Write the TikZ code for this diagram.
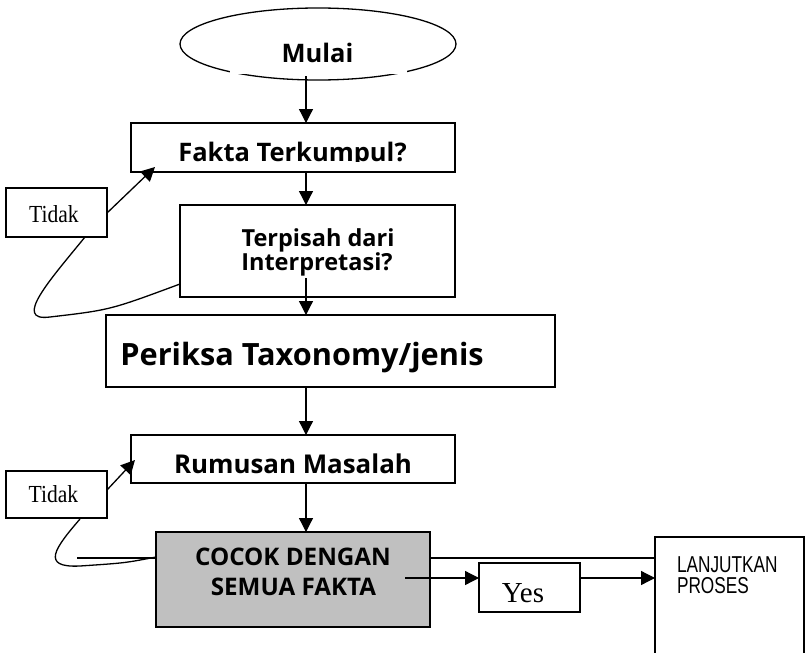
\documentclass[tikz,border=0pt]{standalone}
\usepackage{fontspec}
\newfontfamily\bxf{Open Sans}
\newfontfamily\serf{Liberation Serif}
\newfontfamily\sernf{Liberation Serif}[FakeStretch=0.88]
\newfontfamily\narf{Liberation Sans}[FakeStretch=0.75]
\usetikzlibrary{arrows.meta}
\newcommand{\myB}[1]{\bxf\bfseries\fontsize{#1}{#1}\selectfont}
\begin{document}
\begin{tikzpicture}[x=1pt,y=-1pt,
  box/.style={draw,line width=1.3pt,inner sep=0pt,outer sep=0pt,rectangle},
  txt/.style={inner sep=0pt,outer sep=0pt},
  tight/.style={inner sep=0pt,outer sep=0pt,text height=16pt,text depth=1pt},
  arr/.style={-{Triangle[length=14pt,width=14pt]},line width=1.3pt},
  ln/.style={line width=1.3pt}]
\clip (0,0) rectangle (807,653);
\fill[white] (0,0) rectangle (807,653);
% start ellipse
\draw[ln] (318,44) ellipse [x radius=138, y radius=36];
\fill[white] (230,40) rectangle (407,74);
\node[txt,anchor=base] (mulai) at (317.5,63) {\myB{25.5}Mulai};
% boxes
\node[box,minimum width=324pt,minimum height=49pt] (fakta) at (293,147.5) {};
\node[box,minimum width=275pt,minimum height=92pt] (terp) at (317.5,251) {};
\node[box,minimum width=449pt,minimum height=72pt] (periksa) at (330.5,351) {};
\node[box,minimum width=324pt,minimum height=48pt] (rumus) at (293,459) {};
\node[box,fill={rgb,255:red,192;green,192;blue,192},minimum width=274pt,minimum height=95pt] (cocok) at (293,579.5) {};
\node[box,minimum width=101pt,minimum height=49pt] (tidak1) at (56.5,212.5) {};
\node[box,minimum width=101pt,minimum height=47pt] (tidak2) at (56.5,494.5) {};
\node[box,minimum width=101pt,minimum height=49pt] (yes) at (529.5,587.5) {};
\node[box,minimum width=149pt,minimum height=163pt] (lanj) at (729.5,618.5) {};
% texts
\begin{scope}
\clip (131,123) rectangle (455,161);
\node[txt,anchor=base] (tfakta) at (292.5,161) {\myB{25.5}Fakta Terkumpul?};
\end{scope}
\node[tight,anchor=base] (tterp1) at (318,246) {\myB{23.5}Terpisah dari};
\node[tight,anchor=base] (tterp2) at (317,270) {\myB{23.5}Interpretasi?};
\node[txt,anchor=base] (tperiksa) at (302,365) {\myB{30.7}Periksa Taxonomy/jenis};
\node[txt,anchor=base] (trumus) at (293,473) {\myB{25.9}Rumusan Masalah};
\node[tight,anchor=base] (tcocok1) at (293,565) {\myB{24.2}COCOK DENGAN};
\node[tight,anchor=base] (tcocok2) at (293.5,595) {\myB{24.2}SEMUA FAKTA};
\node[txt,anchor=base] (ttidak1) at (54,222) {\sernf\fontsize{24.5}{24.5}\selectfont Tidak};
\node[txt,anchor=base] (ttidak2) at (53.5,502) {\sernf\fontsize{24.5}{24.5}\selectfont Tidak};
\node[txt,anchor=base] (tyes) at (523,602) {\serf\fontsize{29}{29}\selectfont Yes};
\node[tight,anchor=base west] (tlanj1) at (677,572) {\narf\fontsize{23}{23}\selectfont LANJUTKAN};
\node[tight,anchor=base west] (tlanj2) at (677,593) {\narf\fontsize{23}{23}\selectfont PROSES};
% coordinates
\coordinate (m0) at (306,76);
\coordinate (t0) at (306,278);
\coordinate (c0) at (405,578);
\coordinate (t1a) at (107,213);
\coordinate (t1b) at (85,237);
\coordinate (t2a) at (107,490);
\coordinate (t2b) at (80,519);
\coordinate (hl) at (77,558);
% connectors
\draw[arr] (m0) -- (m0 |- fakta.north);
\draw[arr] (fakta.south -| m0) -- (terp.north -| m0);
\draw[arr] (t0) -- (periksa.north -| t0);
\draw[arr] (periksa.south -| m0) -- (rumus.north -| m0);
\draw[arr] (rumus.south -| m0) -- (cocok.north -| m0);
\draw[arr] (t1a) -- (155,167);
\draw[arr] (t2a) -- (135,460);
\draw[ln] (t1b) .. controls (50,280) and (12,322) .. (50,317) .. controls (110,310) .. (terp.west |- 0,284);
\draw[ln] (t2b) .. controls (55,548) and (40,568) .. (80,566) .. controls (125,563) .. (cocok.west |- 0,557);
\draw[ln] (hl) -- (cocok.west |- hl);
\draw[ln] (cocok.east |- 0,558) -- (lanj.west |- 0,558);
\draw[arr] (c0) -- (yes.west |- c0);
\draw[arr] (yes.east |- c0) -- (lanj.west |- c0);
\end{tikzpicture}
\end{document}
